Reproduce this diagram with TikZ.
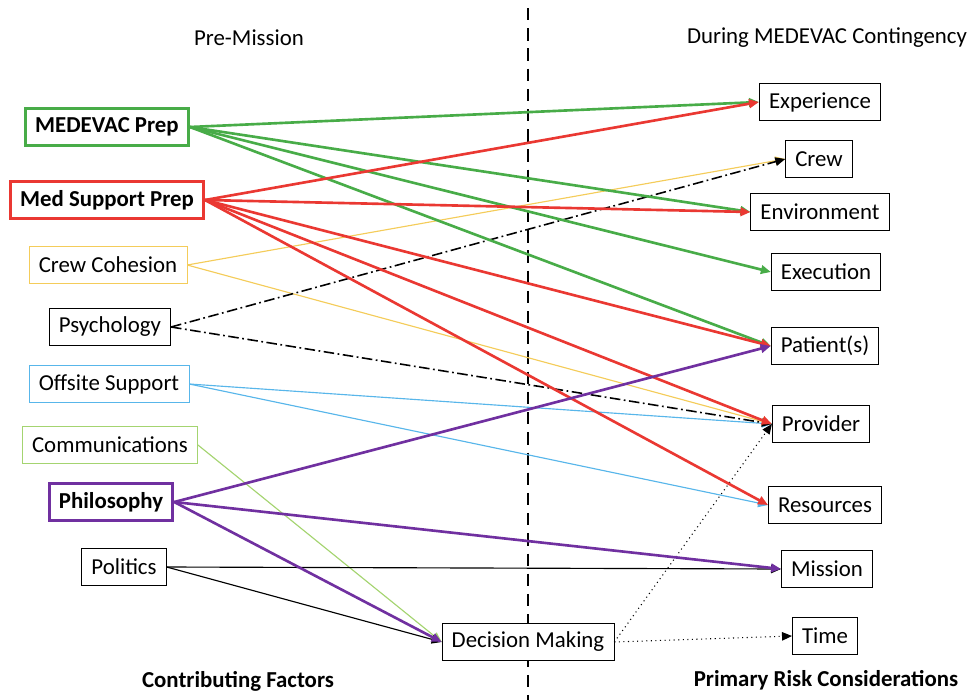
\documentclass[tikz,border=0pt]{standalone}
\usepackage{fontspec}
\setmainfont{Carlito}
\usetikzlibrary{arrows.meta,positioning}
\definecolor{prepgreen}{RGB}{72,172,72}
\definecolor{prepred}{RGB}{234,56,50}
\definecolor{cohesion}{RGB}{244,204,90}
\definecolor{offsite}{RGB}{88,182,234}
\definecolor{comms}{RGB}{164,212,112}
\definecolor{philo}{RGB}{112,48,160}

\begin{document}
\begin{tikzpicture}[
  x=0.02cm, y=-0.02cm,
  box/.style={draw, fill=white, thin, inner xsep=5.5pt, minimum height=0.75cm, font=\fontsize{13}{15}\selectfont},
  keybox/.style={box, line width=1.7pt, font=\fontsize{13}{15}\selectfont\bfseries},
  head/.style={font=\fontsize{13}{15}\selectfont},
  arr/.style={-{Triangle[length=2mm,width=1.7mm]}},
  heavy/.style={arr, line width=1.5pt},
  light/.style={arr, line width=0.65pt},
]
  \useasboundingbox (0,0) rectangle (971,700);

  % divider
  \coordinate (divtop) at (528,8);
  \coordinate (divbot) at (528,700);
  \draw[line width=1.3pt, dash pattern=on 7pt off 4.5pt] (divtop) -- (divbot);

  % headings
  \node[head] (pre) at (249,38) {Pre-Mission};
  \node[head] (during) at (827,38) {During MEDEVAC Contingency};
  \node[head, font=\fontsize{13}{15}\selectfont\bfseries] (cf) at (238,681) {Contributing Factors};
  \node[head, font=\fontsize{13}{15}\selectfont\bfseries] (prc) at (826,680) {Primary Risk Considerations};

  % contributing factors
  \node[keybox, draw=prepgreen] (medevac) at (107,127) {MEDEVAC Prep};
  \node[keybox, draw=prepred] (medsup) at (107,200) {Med Support Prep};
  \node[box, draw=cohesion] (cohesion) at (108,265) {Crew Cohesion};
  \node[box] (psych) at (110,327) {Psychology};
  \node[box, draw=offsite] (offsite) at (109,384) {Offsite Support};
  \node[box, draw=comms] (comms) at (110,445) {Communications};
  \node[keybox, draw=philo] (philo) at (111,502) {Philosophy};
  \node[box] (politics) at (124,567) {Politics};
  \node[box] (decision) at (528,642) {Decision Making};

  % risk considerations
  \node[box] (experience) at (820,102) {Experience};
  \node[box] (crew) at (819,159) {Crew};
  \node[box] (environment) at (820,212) {Environment};
  \node[box] (execution) at (826,272) {Execution};
  \node[box] (patients) at (825,346) {Patient(s)};
  \node[box] (provider) at (821,424) {Provider};
  \node[box] (resources) at (825,505) {Resources};
  \node[box] (mission) at (827,569) {Mission};
  \node[box] (time) at (825,636) {Time};

  % thin links
  \draw[light, cohesion] (cohesion.east) -- (crew.west);
  \draw[light, cohesion] (cohesion.east) -- (provider.west);
  \draw[light, offsite] (offsite.east) -- (provider.west);
  \draw[light, offsite] (offsite.east) -- (resources.west);
  \draw[light, comms] (comms.east) -- (decision.west);
  \draw[light] (politics.east) -- (mission.west);
  \draw[light] (politics.east) -- (decision.west);
  \draw[arr, line width=0.9pt, dash pattern=on 6pt off 2pt on 1pt off 2pt] (psych.east) -- (crew.west);
  \draw[arr, line width=0.9pt, dash pattern=on 6pt off 2pt on 1pt off 2pt] (psych.east) -- (provider.west);
  \draw[arr, line width=0.6pt, dotted] (decision.east) -- (provider.west);
  \draw[arr, line width=0.6pt, dotted] (decision.east) -- (time.west);

  % heavy links
  \draw[heavy, prepgreen] (medevac.east) -- (experience.west);
  \draw[heavy, prepgreen] (medevac.east) -- (environment.west);
  \draw[heavy, prepgreen] (medevac.east) -- (execution.west);
  \draw[heavy, prepgreen] (medevac.east) -- (patients.west);
  \draw[heavy, prepred] (medsup.east) -- (experience.west);
  \draw[heavy, prepred] (medsup.east) -- (environment.west);
  \draw[heavy, prepred] (medsup.east) -- (patients.west);
  \draw[heavy, prepred] (medsup.east) -- (provider.west);
  \draw[heavy, prepred] (medsup.east) -- (resources.west);
  \draw[heavy, philo] (philo.east) -- (patients.west);
  \draw[heavy, philo] (philo.east) -- (mission.west);
  \draw[heavy, philo] (philo.east) -- (decision.west);
\end{tikzpicture}
\end{document}
